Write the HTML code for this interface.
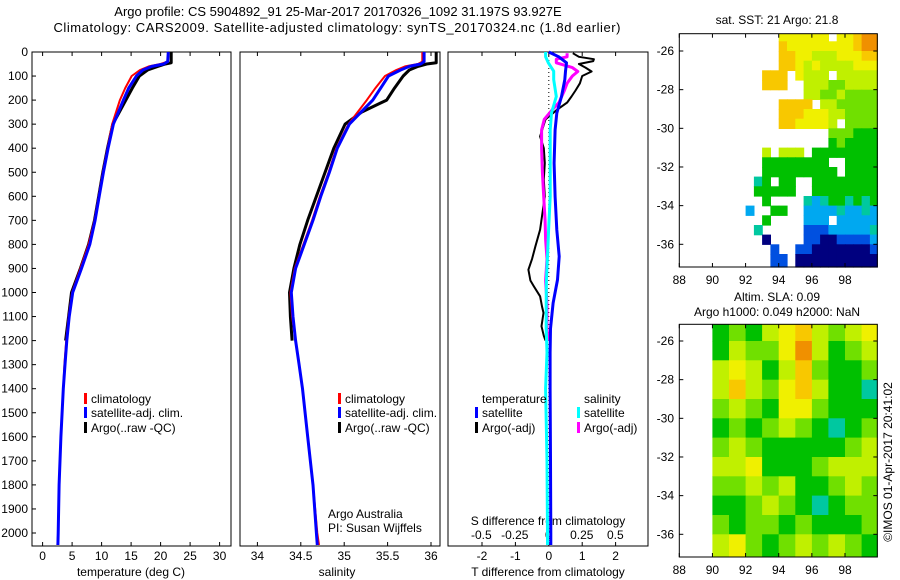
<!DOCTYPE html>
<html><head><meta charset="utf-8"><style>
body{margin:0;background:#fff}
svg{display:block;font-family:"Liberation Sans",sans-serif}
text{font-size:12px;fill:#000}
</style></head><body>
<svg id="fig" width="900" height="580" viewBox="0 0 900 580">
<text x="338" y="16" text-anchor="middle" style="font-size:13px">Argo profile: CS 5904892_91 25-Mar-2017 20170326_1092 31.197S 93.927E</text>
<text x="337" y="32" text-anchor="middle" style="font-size:13px" textLength="567">Climatology: CARS2009. Satellite-adjusted climatology: synTS_20170324.nc (1.8d earlier)</text>
<g id="g"></g>
</svg>
<script>
// ---- profile data ----
const tDep = [0,40,50,60,75,100,150,200,300,400,500,600,700,800,900,1000,1100,1200,1300,1400,1600,1800,2000,2050];
const tClim = [21.3,21.2,20,18,16.5,15.1,14,13.1,11.8,11.0,10.2,9.5,8.8,7.8,6.4,5.0,4.4,4.0,3.7,3.5,3.1,2.8,2.65,2.5];
const tSat = [21.3,21.2,20.5,18.5,17,15.9,14.6,13.7,12.0,11.1,10.3,9.6,8.9,8.0,6.6,5.1,4.5,4.1,3.8,3.5,3.1,2.8,2.65,2.6];
const aDep = [0,45,50,60,75,100,150,200,250,300,400,500,600,700,800,900,1000,1100,1200];
const aTemp = [21.8,21.8,20.8,19.5,17.8,16.4,15.2,14.1,13.0,11.9,11.0,10.2,9.5,8.8,7.8,6.4,4.9,4.4,3.9];
const sClim = [35.9,35.9,35.85,35.7,35.6,35.47,35.36,35.26,35.05,34.91,34.82,34.72,34.63,34.53,34.43,34.38,34.4,34.44,34.48,34.52,34.58,34.64,34.69,34.71];
const sSat = [35.92,35.92,35.88,35.75,35.65,35.51,35.42,35.33,35.06,34.92,34.83,34.73,34.64,34.54,34.44,34.39,34.41,34.44,34.48,34.52,34.58,34.64,34.68,34.69];
const aSal = [36.06,36.06,35.95,35.85,35.75,35.68,35.58,35.49,35.2,35.01,34.88,34.78,34.68,34.58,34.49,34.42,34.37,34.38,34.40];
const dDep = [0,20,45,80,115,185,254,324,462,601,739,850,947,1044,1150,1250,1400,1700,2000,2050];
const dTsat = [0.0,0.3,0.53,0.5,0.48,0.38,0.24,0.19,0.16,0.19,0.24,0.31,0.26,0.13,0.05,0.04,0.04,0.05,0.06,0.06];
const dSsat = [-0.02,-0.02,0.0,0.04,0.04,0.06,0.024,0.014,0.014,0.014,0.002,-0.006,-0.014,-0.016,-0.016,-0.01,-0.02,-0.01,-0.006,-0.006];
const tdDep = [5,20,30,38,50,65,81,100,130,160,185,210,240,280,351,400,462,530,601,680,739,808,860,905,950,974,1016,1060,1085,1140,1180,1200];
const dTargo = [0.72,0.9,1.35,1.33,0.9,1.1,1.28,1.0,0.93,0.8,0.68,0.55,0.25,-0.1,-0.26,-0.15,-0.12,-0.15,-0.12,-0.2,-0.26,-0.4,-0.5,-0.61,-0.55,-0.45,-0.26,-0.2,-0.16,-0.22,-0.15,-0.1];
const sdDep = [5,20,30,45,65,81,100,130,160,185,210,240,280,324,400,500,601,700,780,860,950,1050,1150,1200];
const dSargo = [0.14,0.14,0.06,0.06,0.18,0.22,0.18,0.14,0.12,0.10,0.08,0.03,-0.03,-0.05,-0.05,-0.044,-0.034,-0.024,-0.02,-0.01,-0.02,-0.01,-0.01,0.0];
const depthTicks = [0,100,200,300,400,500,600,700,800,900,1000,1100,1200,1300,1400,1500,1600,1700,1800,1900,2000];
const tempTicks = [0,5,10,15,20,25,30];
const salTicks = [34,34.5,35,35.5,36];
const salTickLabels = ["34","34.5","35","35.5","36"];
const tdTicks = [-2,-1,0,1,2];
const sdTicks = [-0.5,-0.25,0,0.25,0.5];
const sdTickLabels = ["-0.5","-0.25","0","0.25","0.5"];
// ---- map data (rows from north to south, 0.5 deg cells from 88E; '.' = no data) ----
const sstRows = [
"............777777.77899",
"............877777777899",
"............887766677788",
"............887676666777",
"..........888.7666.66666",
"..........888..666556666",
"...............665565555",
"............8888.6655555",
"............888777665555",
"............8877776.5555",
"..................555444",
"..................454444",
"..........6.666.44444444",
"..........44444444..4444",
"..........444444444.4444",
".........34.44..44444444",
".........44444..44444444",
"..........4....323443434",
"........2..44..222232232",
"..........4....222.22222",
".........3.....111222223",
"..........0....110011112",
"...........1..1100000001",
"...........11.0000000000"];
const slaRows = [
[4,5,4,6,7,8,6,5,6,7],
[4,6,5,5,7,9,6,4,5,6],
[6,7,6,4,6,8,5,4,4,5],
[6,8,6,5,7,8,6,4,4,3],
[5,6,5,4,7,7,5,4,4,4],
[4,5,4,5,6,5,4,3,4,5],
[5,6,5,4,4,4,4,4,5,6],
[6,6,7,4,4,4,5,6,6,6],
[5,5,6,5,6,4,4,5,6,5],
[4,4,5,6,5,4,3,4,5,5],
[5,4,5,5,4,5,4,4,4,5],
[6,7,5,4,5,6,5,6,5,4],
[6,7,5,4,5,6,5,6,5,4]];
const lonTicks = [88,90,92,94,96,98];
const latTicks = [-26,-28,-30,-32,-34,-36];
const palette = ["#00007f","#0050e0","#00a8f0","#00c8a0","#00c000","#70e000","#c0f000","#f0f000","#f8c800","#f09000"];

const NS="http://www.w3.org/2000/svg";
const G=document.getElementById('g');
function mk(tag,attrs,parent){const e=document.createElementNS(NS,tag);for(const k in attrs)e.setAttribute(k,attrs[k]);(parent||G).appendChild(e);return e;}
function txt(x,y,s,anchor,parent){const e=mk('text',{x:x,y:y,'text-anchor':anchor||'middle'},parent);e.textContent=s;return e;}

const yD = d => 52 + d*0.2405;
const xT = t => 42.6 + t*5.9;
const xS = s => 257.4 + (s-34)*86.8;
const xTd = v => 548.8 + v*33.4;
const xSd = v => 548.3 + v*134;
const PB=546;

function line(xs,ds,fx,col,w,name){
  const p=xs.map((v,i)=>fx(v).toFixed(1)+','+yD(ds[i]).toFixed(1)).join(' ');
  const e=mk('polyline',{points:p,fill:'none',stroke:col,'stroke-width':w,'stroke-linejoin':'round'});
  
  
}
function panel(x0,x1,name){
  const r=mk('rect',{x:x0,y:52,width:x1-x0,height:PB-52,fill:'none',stroke:'#000','stroke-width':1});
  
  
}
panel(32,231,'temperature-panel');
panel(240,440,'salinity-panel');
panel(448,648,'difference-panel');
depthTicks.forEach(d=>{
  mk('line',{x1:32,x2:36,y1:yD(d),y2:yD(d),stroke:'#000'});
  const t=txt(28,yD(d)+4,String(d),'end');
  
  
});
function xticks(vals,labels,fx){
  vals.forEach((v,i)=>{
    const x=fx(v);
    mk('line',{x1:x,x2:x,y1:PB,y2:PB-4,stroke:'#000'});
    mk('line',{x1:x,x2:x,y1:52,y2:56,stroke:'#000'});
    const t=txt(x,560,labels[i]);
    
    
  });
}
xticks(tempTicks,tempTicks.map(String),xT);
xticks(salTicks,salTickLabels,xS);
xticks(tdTicks,tdTicks.map(String),xTd);
let e;
e=txt(131,576,'temperature (deg C)');
e=txt(337,576,'salinity');
e=txt(548,576,'T difference from climatology');
e=txt(548,525,'S difference from climatology');
sdTicks.forEach((v,i)=>{const t=txt(xSd(v),539,sdTickLabels[i]);});
e=txt(328,518,'Argo Australia','start');
e=txt(328,532,'PI: Susan Wijffels','start');
mk('line',{x1:548.8,x2:548.8,y1:52,y2:PB,stroke:'#000','stroke-dasharray':'1,3'});
line(aTemp,aDep,xT,'#000',3,'argo-temperature-line');
line(tClim,tDep,xT,'#ff0000',2,'climatology-temperature-line');
line(tSat,tDep,xT,'#0000ff',3,'satellite-temperature-line');
line(aSal,aDep,xS,'#000',3,'argo-salinity-line');
line(sClim,tDep,xS,'#ff0000',2,'climatology-salinity-line');
line(sSat,tDep,xS,'#0000ff',3,'satellite-salinity-line');
line(dTargo,tdDep,xTd,'#000',2,'argo-t-difference-line');
line(dSargo,sdDep,xSd,'#ff00ff',3,'argo-s-difference-line');
line(dSsat,dDep,xSd,'#00ffff',3,'satellite-s-difference-line');
line(dTsat,dDep,xTd,'#0000ff',3,'satellite-t-difference-line');
function leg(x,y,col,label,name){
  const g=mk('g',{});
  
  
  mk('rect',{x:x,y:y-10,width:3,height:11,fill:col},g);
  txt(x+7,y,label,'start',g);
}
leg(84,403,'#ff0000','climatology','legend-climatology');
leg(84,417,'#0000ff','satellite-adj. clim.','legend-satellite-adj');
leg(84,432,'#000','Argo(..raw -QC)','legend-argo');
leg(338,403,'#ff0000','climatology','legend-climatology-salinity');
leg(338,417,'#0000ff','satellite-adj. clim.','legend-satellite-adj-salinity');
leg(338,432,'#000','Argo(..raw -QC)','legend-argo-salinity');
e=txt(482,403,'temperature','start');
e=txt(584,403,'salinity','start');
leg(475,417,'#0000ff','satellite','legend-t-satellite');
leg(475,432,'#000','Argo(-adj)','legend-t-argo');
leg(577,417,'#00ffff','satellite','legend-s-satellite');
leg(577,432,'#ff00ff','Argo(-adj)','legend-s-argo');

function mapAxes(top,bot,y26,name){
  const xL=lon=>679.3+(lon-88)*16.57;
  const yL=lat=>y26+(-26-lat)*19.33;
  const r=mk('rect',{x:679.3,y:top,width:198,height:bot-top,fill:'none',stroke:'#000'});
  
  
  lonTicks.forEach(l=>{mk('line',{x1:xL(l),x2:xL(l),y1:bot,y2:bot-4,stroke:'#000'});mk('line',{x1:xL(l),x2:xL(l),y1:top,y2:top+4,stroke:'#000'});
    const t=txt(xL(l),bot+17,String(l));});
  latTicks.forEach(l=>{mk('line',{x1:679.3,x2:683.3,y1:yL(l),y2:yL(l),stroke:'#000'});mk('line',{x1:877.3,x2:873.3,y1:yL(l),y2:yL(l),stroke:'#000'});
    const t=txt(674,yL(l)+4,String(l),'end');});
}
(function(){
  const top=33.7,bot=267;
  const xL=lon=>679.3+(lon-88)*16.57, yL=lat=>51+(-26-lat)*19.33;
  const cg=mk('g',{});
  
  
  sstRows.forEach((row,r)=>{
    const la=-25-r*0.5;
    for(let c=0;c<row.length;c++){
      const ch=row[c]; if(ch==='.')continue;
      const lo=88+c*0.5;
      const y0=Math.max(top,yL(la)), y1=Math.min(bot,yL(la-0.5)+ (r===sstRows.length-1?5:0));
      const x1=Math.min(877.3,xL(lo+0.5));
      mk('rect',{x:xL(lo).toFixed(1),y:y0.toFixed(1),width:(x1-xL(lo)+0.6).toFixed(1),height:(y1-y0+0.6).toFixed(1),fill:palette[+ch]},cg);
    }
  });
  mapAxes(top,bot,51,'sst-map');
  const t=txt(777,24,'sat. SST: 21 Argo: 21.8');
})();
(function(){
  const top=324.3,bot=557;
  const xL=lon=>679.3+(lon-88)*16.57, yL=lat=>341+(-26-lat)*19.33;
  const cg=mk('g',{});
  
  
  slaRows.forEach((row,r)=>{
    const la=-25-r;
    row.forEach((v,c)=>{
      const lo=90+c;
      const y0=Math.max(top,yL(la)), y1=Math.min(bot,yL(la-1));
      if(y1<=y0)return;
      const x1=Math.min(877.3,xL(lo+1));
      mk('rect',{x:xL(lo).toFixed(1),y:y0.toFixed(1),width:(x1-xL(lo)+0.5).toFixed(1),height:(y1-y0+0.5).toFixed(1),fill:palette[v]},cg);
    });
  });
  mapAxes(top,bot,341,'sla-map');
  let t=txt(777,301,'Altim. SLA: 0.09');
  t=txt(777,316,'Argo h1000: 0.049 h2000: NaN');
  t=mk('text',{x:0,y:0,transform:'translate(892,462) rotate(-90)','text-anchor':'middle'});
  t.textContent='©IMOS 01-Apr-2017 20:41:02';
  
  
})();
</script>
</body></html>
